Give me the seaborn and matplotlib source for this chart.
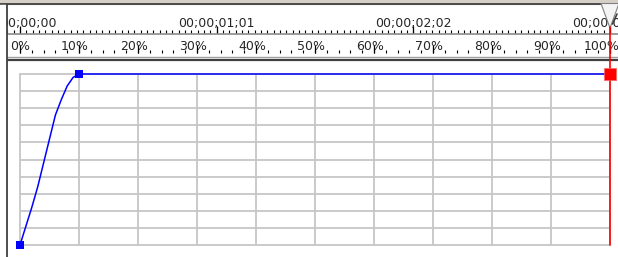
import numpy as np
import seaborn as sns
import matplotlib.pyplot as plt
import matplotlib.transforms as mtransforms
from matplotlib.patches import Polygon, Rectangle

sns.set_style("white")
plt.rcParams['font.family'] = ['DejaVu Sans']

# keyframe curve: position in clip (%) vs value (%)
curve_pct = [0, 1, 2, 3, 4, 5, 6, 7, 8, 9, 10, 100]
curve_val = [0, 11, 22, 34, 48, 62, 76, 85, 93, 98, 100, 100]
key_pct = [0, 10]
key_val = [0, 100]
end_pct = [100]
end_val = [100]
playhead_pct = 100

# rulers
pct_ticks = list(range(0, 101, 10))
pct_labels = [f"{p}%" for p in pct_ticks]
val_ticks = list(range(0, 101, 10))
n_frames = 93
time_frames = [0, 31, 62, 93]
time_labels = ["00;00;00", "00;00;01;01", "00;00;02;02", "00;00;03;03"]

W, H = 618, 257
fig = plt.figure(figsize=(W / 100, H / 100), dpi=100)
fig.patch.set_facecolor("white")

# background axes in pixel units (for the window chrome)
bg = fig.add_axes([0, 0, 1, 1])
bg.set_xlim(0, W)
bg.set_ylim(H, 0)
bg.axis("off")

# graph area
ax = fig.add_axes([20 / W, (H - 245) / H, 590 / W, 171 / H])
ax.set_xlim(0, 100)
ax.set_ylim(0, 100)
ax.set_xticks(pct_ticks)
ax.set_yticks(val_ticks)
ax.tick_params(length=0, labelbottom=False, labelleft=False)
ax.set_axisbelow(True)
ax.grid(True, color="#c6c6c6", lw=1.3)
for gl in ax.get_xgridlines() + ax.get_ygridlines():
    gl.set_clip_on(False)
for s in ax.spines.values():
    s.set_visible(False)
ax.patch.set_alpha(0)

sns.lineplot(x=curve_pct, y=curve_val, color="#0000ff", lw=1.1, ax=ax, clip_on=False, zorder=3)
ax.axvline(playhead_pct, ymin=0, ymax=(245 - 27) / 171, color="#ff0000", lw=1.2, clip_on=False, zorder=4)
sns.scatterplot(x=key_pct, y=key_val, marker="s", s=30, color="#0000ff", edgecolor="none",
                ax=ax, clip_on=False, zorder=5)
sns.scatterplot(x=end_pct, y=end_val, marker="s", s=80, color="#ff0000", edgecolor="#ff6060",
                linewidth=0.5, ax=ax, clip_on=False, zorder=5)
ax.set_xlabel("")
ax.set_ylabel("")

# rulers: x follows the graph, y in pixels
tx = mtransforms.blended_transform_factory(ax.transData, bg.transData)

bg.add_patch(Rectangle((0, 0), W, 3.5, color="#d4d0c8", zorder=1))
bg.hlines(4.3, 0, W, color="#404040", lw=1.3, zorder=2)

# time ruler
frame_pct = np.arange(-2, n_frames + 1) * 100 / n_frames
time_pct = [f * 100 / n_frames for f in time_frames]
bg.vlines(frame_pct, 29.5, 32.8, color="black", lw=0.8, transform=tx, zorder=2)
bg.vlines(time_pct, 25.5, 32.8, color="black", lw=0.9, transform=tx, zorder=2)
for i, (p, lbl) in enumerate(zip(time_pct, time_labels)):
    if i == 0:
        t = mtransforms.offset_copy(tx, fig=fig, x=37, y=0, units="dots")
        bg.text(p, 27.5, lbl, transform=t, ha="right", va="baseline", fontsize=9, zorder=3)
    else:
        bg.text(p, 27.5, lbl, transform=tx, ha="center", va="baseline", fontsize=9, zorder=3)

bg.hlines(33.8, 0, W, color="#808080", lw=1.1, zorder=2)

# percent ruler
bg.vlines(np.arange(0, 101, 2), 49.5, 52.8, color="black", lw=0.8, transform=tx, zorder=2)
bg.vlines(pct_ticks, 45, 52.8, color="black", lw=0.9, transform=tx, zorder=2)
pt = mtransforms.offset_copy(tx, fig=fig, x=10, y=0, units="dots")
for p, lbl in zip(pct_ticks, pct_labels):
    bg.text(p, 49.5, lbl, transform=pt, ha="right", va="baseline", fontsize=9, zorder=3)

bg.hlines(57, 0, W, color="#a0a0a0", lw=1, zorder=2)
bg.hlines(59.5, 0, W, color="#404040", lw=1.6, zorder=2)

# left border
bg.add_patch(Rectangle((0, 5), 6.3, H, color="white", zorder=4))
bg.vlines(7, 4.3, H, color="#404040", lw=1.3, zorder=5)

# playhead handle
bg.add_patch(Polygon([(601, 3.5), (619, 3.5), (610, 28)], closed=True, fc="#f4f4f4",
                     ec="#808080", lw=0.8, zorder=6))
bg.plot([612.5, 617], [24, 14], color="#404040", lw=1.2, zorder=7)

fig.savefig("out.png", dpi=100)
plt.close()
